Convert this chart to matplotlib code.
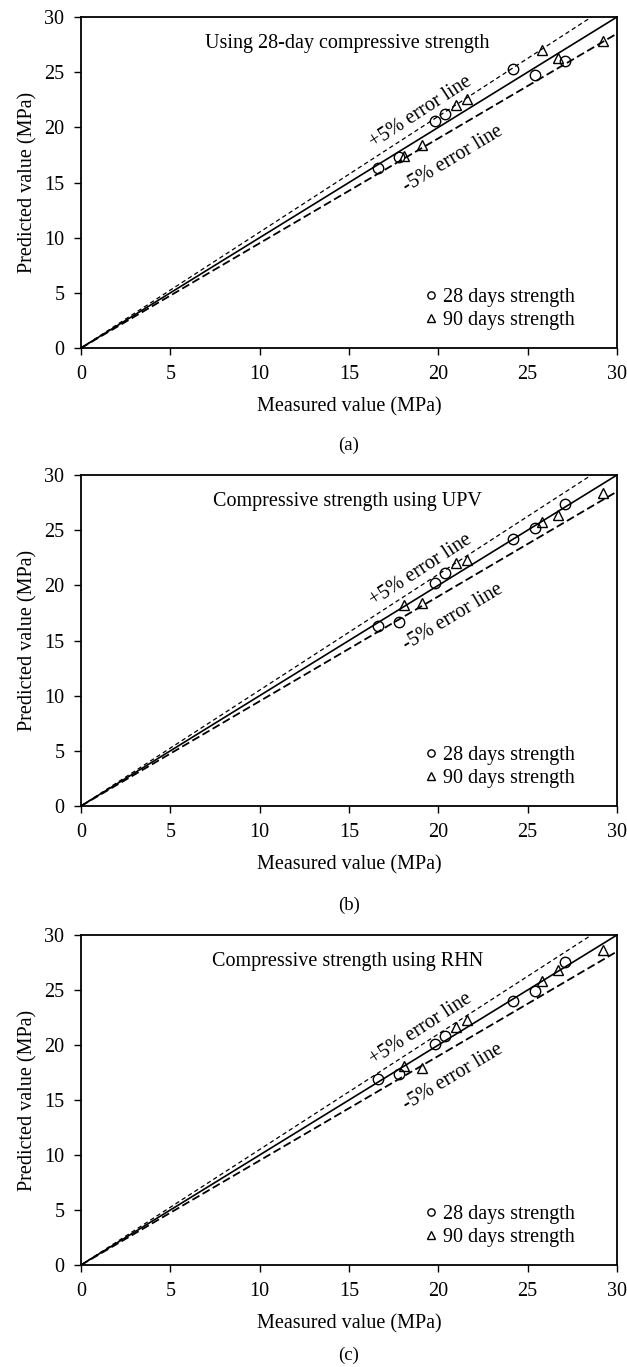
import matplotlib
matplotlib.use("Agg")
import matplotlib.pyplot as plt

plt.rcParams['font.family'] = ['Liberation Serif', 'DejaVu Serif']

# measured values (same for every panel)
measured28 = [16.6, 17.8, 19.8, 20.4, 24.2, 25.4, 27.1]
measured90 = [18.1, 19.1, 21.0, 21.6, 25.8, 26.7, 29.2]

# predicted values per panel
pred28_a = [16.3, 17.3, 20.6, 21.2, 25.3, 24.7, 26.0]
pred90_a = [17.4, 18.4, 22.0, 22.6, 27.0, 26.3, 27.8]

pred28_b = [16.3, 16.7, 20.2, 21.1, 24.2, 25.2, 27.35]
pred90_b = [18.25, 18.4, 22.0, 22.3, 25.75, 26.35, 28.4]

pred28_c = [16.9, 17.35, 20.1, 20.8, 24.0, 24.9, 27.55]
pred90_c = [18.05, 17.95, 21.6, 22.3, 25.85, 26.85, 28.6]

titles = ["Using 28-day compressive strength",
          "Compressive strength using UPV",
          "Compressive strength using RHN"]
letters = ["(a)", "(b)", "(c)"]

line_x = [0, 30]
ticks = [0, 5, 10, 15, 20, 25, 30]

W, H = 627, 1367
fig = plt.figure(figsize=(W / 100, H / 100), dpi=100)

# axes pixel boxes: top, bottom
boxes = [(17, 348), (475, 806), (935, 1265)]
letter_y = [445, 905, 1355]
preds = [(pred28_a, pred90_a), (pred28_b, pred90_b), (pred28_c, pred90_c)]
fs = 14.5

for k in range(3):
    top, bot = boxes[k]
    ax = fig.add_axes([81 / W, 1 - bot / H, 536 / W, (bot - top) / H])
    p28, p90 = preds[k]

    ax.plot(line_x, [v * 1.05 for v in line_x], color="black", lw=0.9,
            dashes=(3.5, 2.5), zorder=2)
    ax.plot(line_x, line_x, color="black", lw=1.2, zorder=2)
    ax.plot(line_x, [v * 0.95 for v in line_x], color="black", lw=1.3,
            dashes=(4.5, 2), zorder=2)

    ax.plot(measured28, p28, linestyle="none", marker="o", markersize=7.5,
            markerfacecolor="none", markeredgecolor="black", mew=1.0,
            label="28 days strength", zorder=3)
    ax.plot(measured90, p90, linestyle="none", marker="^", markersize=7.5,
            markerfacecolor="none", markeredgecolor="black", mew=1.0,
            label="90 days strength", zorder=3)

    ax.set_xlim(0, 30)
    ax.set_ylim(0, 30)
    ax.set_xticks(ticks)
    ax.set_yticks(ticks)
    ax.tick_params(direction="out", length=5, width=1, labelsize=fs, pad=7,
                   top=False, right=False)
    for s in ax.spines.values():
        s.set_linewidth(1.3)

    ax.set_xlabel("Measured value (MPa)", fontsize=fs, labelpad=10)
    ax.set_ylabel("Predicted value (MPa)", fontsize=fs, labelpad=5)

    ax.text(14.9, 27.6, titles[k], fontsize=fs, ha="center", va="center")
    ax.text(19.0, 21.4, "+5% error line", fontsize=fs, ha="center",
            va="center", rotation=33, rotation_mode="anchor")
    ax.text(20.8, 17.1, "-5% error line", fontsize=fs, ha="center",
            va="center", rotation=31, rotation_mode="anchor")

    ax.legend(loc="lower right", bbox_to_anchor=(0.955, 0.0), frameon=False,
              fontsize=fs, handlelength=0.6, handletextpad=0.3,
              labelspacing=0.2, markerscale=0.7)

    fig.text(349 / W, 1 - letter_y[k] / H, letters[k], fontsize=13.5,
             ha="center", va="center")

fig.savefig("out.png", dpi=100)
